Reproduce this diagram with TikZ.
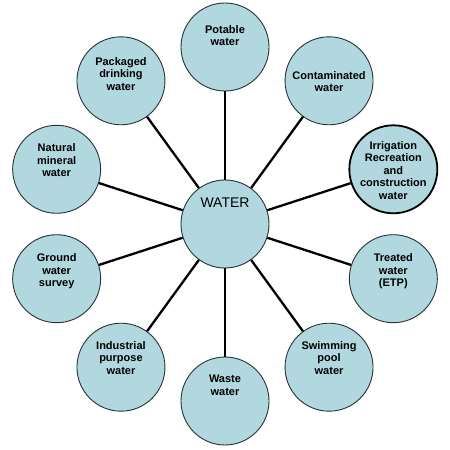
\documentclass[tikz,border=0pt]{standalone}
\usepackage{fontspec}
\setmainfont{Liberation Sans}
\usepackage{tikz}
\definecolor{cbubble}{RGB}{176,216,222}
\definecolor{cedge}{RGB}{40,50,55}

\begin{document}
\begin{tikzpicture}[x=1pt,y=1pt,thick,
  bubble/.style={circle,fill=cbubble,draw=cedge,line width=0.9pt,minimum size=88pt,inner sep=0pt},
  bubble text/.style={align=center,font=\bfseries\fontsize{11}{12.5}\selectfont,anchor=north},
  spoke/.style={line width=2.3pt,black}]
  \useasboundingbox (0,0) rectangle (450,450);
  \node[bubble] (water) at (225,226)
    [label={[font=\fontsize{14}{15}\selectfont,anchor=north,yshift=-15pt]north:WATER}] {};
  \node[bubble] (potable) at ([shift={(90:177pt)}]water)
    [label={[bubble text,yshift=-19pt]north:Potable\\water}] {};
  \node[bubble] (contam) at ([shift={(54:177pt)}]water)
    [label={[bubble text,yshift=-31pt]north:Contaminated\\water}] {};
  \node[bubble,draw=black,line width=1.8pt] (irrig) at ([shift={(18:177pt)}]water)
    [label={[bubble text,yshift=-13pt]north:Irrigation\\Recreation\\and\\construction\\water}] {};
  \node[bubble] (treated) at ([shift={(-18:177pt)}]water)
    [label={[bubble text,yshift=-16pt]north:Treated\\water\\(ETP)}] {};
  \node[bubble] (swim) at ([shift={(-54:177pt)}]water)
    [label={[bubble text,yshift=-15pt]north:Swimming\\pool\\water}] {};
  \node[bubble] (waste) at ([shift={(-90:177pt)}]water)
    [label={[bubble text,yshift=-15pt]north:Waste\\water}] {};
  \node[bubble] (industrial) at ([shift={(-126:177pt)}]water)
    [label={[bubble text,yshift=-15pt]north:Industrial\\purpose\\water}] {};
  \node[bubble] (ground) at ([shift={(-162:177pt)}]water)
    [label={[bubble text,yshift=-16pt]north:Ground\\water\\survey}] {};
  \node[bubble] (mineral) at ([shift={(162:177pt)}]water)
    [label={[bubble text,yshift=-15pt]north:Natural\\mineral\\water}] {};
  \node[bubble] (packaged) at ([shift={(126:177pt)}]water)
    [label={[bubble text,yshift=-17pt]north:Packaged\\drinking\\water}] {};

  \foreach \n in {potable,contam,irrig,treated,swim,waste,industrial,ground,mineral,packaged}
    \draw[spoke] (water) -- (\n);
\end{tikzpicture}
\end{document}
